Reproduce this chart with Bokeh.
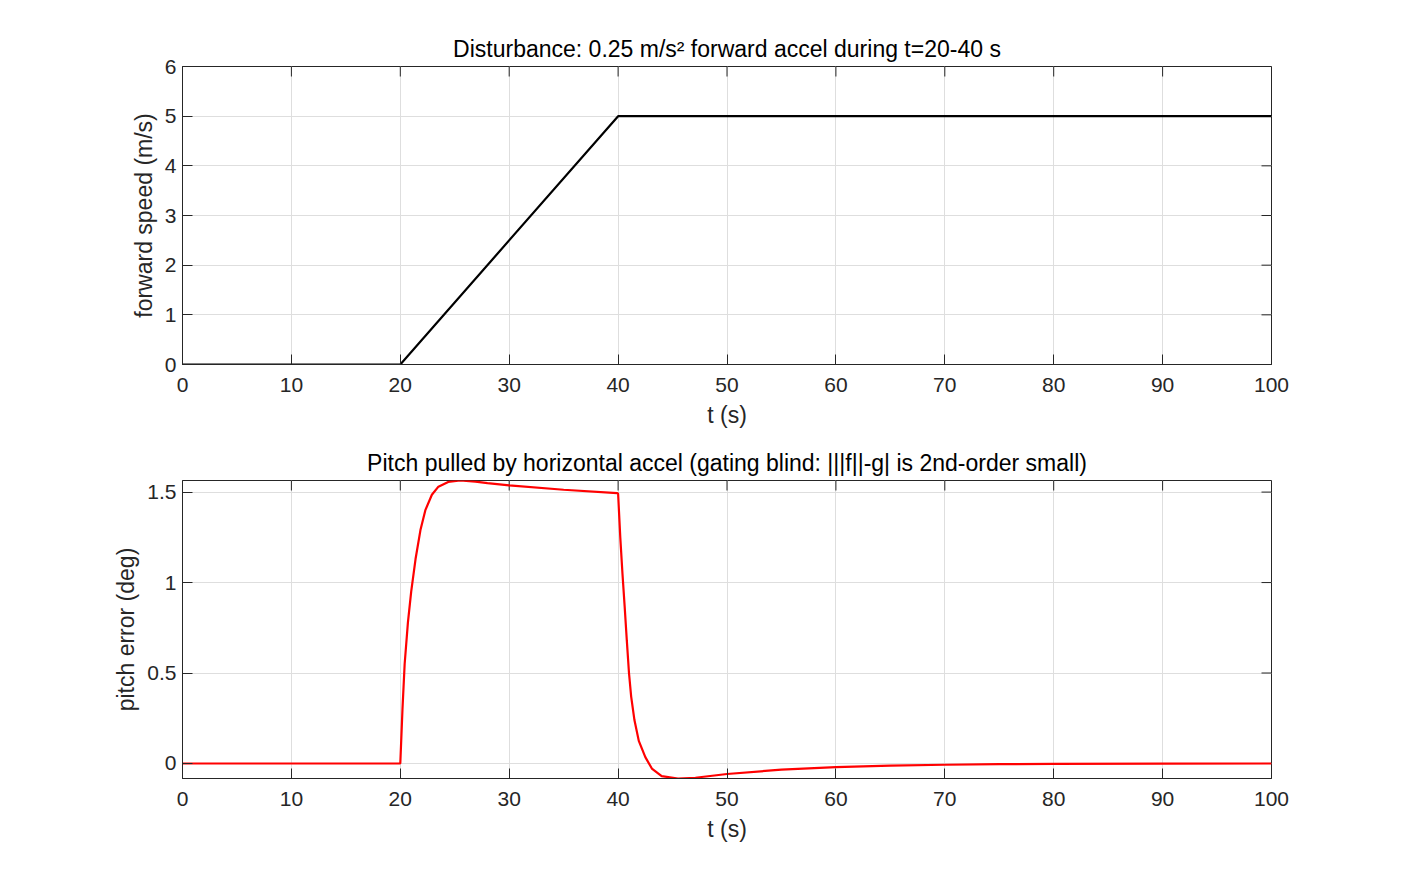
import math
from bokeh.plotting import figure
from bokeh.layouts import column
from bokeh.models import Range1d, FixedTicker, CustomJSTickFormatter
from bokeh.embed import file_html
from bokeh.resources import INLINE

# forward speed under the disturbance
t_speed = [0, 20, 40, 100]
speed = [0, 0, 5, 5]

# pitch error
t_pitch = [0, 20, 20.2, 20.4, 20.7, 21.0, 21.4, 21.85, 22.3, 22.9, 23.5, 24.4,
           25.5, 26.9, 28, 30, 35, 39.9, 40.0, 40.2, 40.4, 40.6, 40.8, 41.0,
           41.2, 41.5, 41.9, 42.5, 43.1, 44.0, 45.5, 47.1, 50, 55, 60,
           65, 70, 75, 80, 90, 100]
pitch = [0, 0, 0.3, 0.55, 0.78, 0.95, 1.13, 1.29, 1.40, 1.485, 1.53, 1.556,
         1.564, 1.558, 1.55, 1.537, 1.513, 1.494, 1.492, 1.25, 1.05, 0.87,
         0.68, 0.50, 0.37, 0.24, 0.125, 0.035, -0.028, -0.07, -0.083, -0.079,
         -0.058, -0.034, -0.020, -0.012, -0.007, -0.004, -0.002, -0.001, 0]

x_ticks = list(range(0, 101, 10))
speed_ticks = [0, 1, 2, 3, 4, 5, 6]
pitch_ticks = [0, 0.5, 1, 1.5]

FONT = "Liberation Sans"
AX = "#262626"
GRID = "#dedede"


def style_axis(ax):
    ax.axis_line_color = AX
    ax.major_tick_line_color = AX
    ax.major_tick_in = 10
    ax.major_tick_out = 0
    ax.minor_tick_line_color = None
    ax.major_label_text_font = FONT
    ax.major_label_text_color = AX
    ax.major_label_text_font_size = "21px"
    ax.axis_label_text_font = FONT
    ax.axis_label_text_font_size = "23px"
    ax.axis_label_text_font_style = "normal"
    ax.axis_label_text_color = AX


def make_fig(title, yticks, ylo, yhi, ylabel, top, bottom):
    p = figure(frame_width=1089, frame_height=298, title=title,
               x_range=Range1d(0, 100), y_range=Range1d(ylo, yhi),
               output_backend="svg", toolbar_location=None,
               min_border_left=182, min_border_right=60,
               min_border_top=top, min_border_bottom=bottom)
    p.title.text_font = FONT
    p.title.text_font_size = "23px"
    p.title.text_font_style = "normal"
    p.title.text_color = "black"
    p.title.align = "center"
    p.outline_line_color = AX
    p.outline_line_alpha = 1

    p.xaxis.ticker = FixedTicker(ticks=x_ticks)
    p.yaxis.ticker = FixedTicker(ticks=yticks)
    p.yaxis.formatter = CustomJSTickFormatter(code="return String(tick)")
    p.xaxis.axis_label = "t (s)"
    p.yaxis.axis_label = ylabel
    for ax in p.xaxis + p.yaxis:
        style_axis(ax)
    p.xaxis.major_label_standoff = 13
    p.xaxis.axis_label_standoff = 7
    p.yaxis.major_label_standoff = 6
    p.yaxis.axis_label_standoff = 5

    p.xgrid.grid_line_color = GRID
    p.ygrid.grid_line_color = GRID
    p.xgrid.ticker = FixedTicker(ticks=x_ticks)
    p.ygrid.ticker = FixedTicker(ticks=yticks)

    # inward ticks on the top and right edges (box on)
    p.ray(x=x_ticks, y=[yhi] * len(x_ticks), length=10, length_units="screen",
          angle=-math.pi / 2, line_color=AX, line_width=1)
    p.ray(x=[100] * len(yticks), y=yticks, length=10, length_units="screen",
          angle=math.pi, line_color=AX, line_width=1)
    return p


p1 = make_fig("Disturbance: 0.25 m/s\u00b2 forward accel during t=20-40 s",
              speed_ticks, 0, 6, "forward speed (m/s)", 66, 68)
p1.line(t_speed, speed, line_color="black", line_width=2.2)

p2 = make_fig("Pitch pulled by horizontal accel (gating blind: |||f||-g| is 2nd-order small)",
              pitch_ticks, min(pitch), max(pitch), "pitch error (deg)", 48, 70)
p2.line(t_pitch, pitch, line_color="#ff0000", line_width=2.2)

layout = column(p1, p2, spacing=0)

open("out.html", "w").write(file_html(layout, INLINE))
